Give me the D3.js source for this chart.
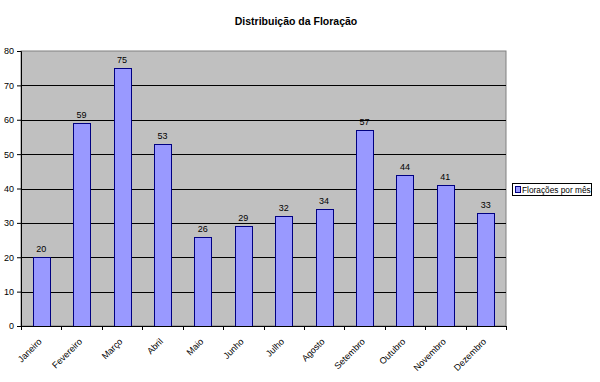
<!DOCTYPE html>
<html>
<head>
<meta charset="utf-8">
<script src="https://cdn.jsdelivr.net/npm/d3@7"></script>
<style>
  body { margin: 0; background: #fff; }
  svg { font-family: "Liberation Sans", Arial, sans-serif; }
</style>
</head>
<body>
<div id="chart"></div>
<script>
// chart data
const months = ["Janeiro", "Fevereiro", "Março", "Abril", "Maio", "Junho",
  "Julho", "Agosto", "Setembro", "Outubro", "Novembro", "Dezembro"];
const floracoes = [20, 59, 75, 53, 26, 29, 32, 34, 57, 44, 41, 33];
const yTicks = [0, 10, 20, 30, 40, 50, 60, 70, 80];
const seriesName = "Florações por mês";
const title = "Distribuição da Floração";

const W = 600, H = 382;
const margin = { top: 51, left: 21, bottom: 56, right: 94 };
const width = W - margin.left - margin.right;
const height = H - margin.top - margin.bottom;

const svg = d3.select("#chart").append("svg")
  .attr("width", W)
  .attr("height", H);

svg.append("text")
  .attr("x", 296)
  .attr("y", 25)
  .attr("text-anchor", "middle")
  .attr("font-size", "10.5px")
  .attr("font-weight", "bold")
  .text(title);

const g = svg.append("g").attr("transform", `translate(${margin.left},${margin.top})`);

const x = d3.scaleBand().domain(months).range([0, width]).paddingInner(0).paddingOuter(0);
const y = d3.scaleLinear().domain([0, 80]).range([height, 0]);

// plot area
g.append("rect")
  .attr("width", width)
  .attr("height", height)
  .attr("fill", "#c0c0c0")
  .attr("stroke", "#808080")
  .attr("stroke-width", 1);

// gridlines
g.selectAll(".grid")
  .data(yTicks.filter(d => d > 0 && d < 80))
  .enter().append("line")
  .attr("x1", 0).attr("x2", width)
  .attr("y1", d => Math.round(y(d)) + 0.5)
  .attr("y2", d => Math.round(y(d)) + 0.5)
  .attr("stroke", "#000")
  .attr("stroke-width", 1);

// bars
const bw = x.bandwidth() * 0.42;
g.selectAll(".bar")
  .data(floracoes)
  .enter().append("rect")
  .attr("x", (d, i) => Math.round(x(months[i]) + (x.bandwidth() - bw) / 2) + 0.5)
  .attr("y", d => Math.round(y(d)) + 0.5)
  .attr("width", Math.round(bw))
  .attr("height", d => Math.round(height - y(d)))
  .attr("fill", "#9999ff")
  .attr("stroke", "#000080")
  .attr("stroke-width", 1);

// value labels
g.selectAll(".lbl")
  .data(floracoes)
  .enter().append("text")
  .attr("x", (d, i) => x(months[i]) + x.bandwidth() / 2)
  .attr("y", d => y(d) - 5)
  .attr("text-anchor", "middle")
  .attr("font-size", "9px")
  .attr("fill", "#000")
  .text(d => d);

// y axis
const yAxis = g.append("g")
  .call(d3.axisLeft(y).tickValues(yTicks).tickSize(4).tickPadding(3));
yAxis.select(".domain").attr("stroke", "#000");
yAxis.selectAll("line").attr("stroke", "#000");
yAxis.selectAll("text").attr("font-size", "9px").attr("fill", "#000")
  .attr("font-family", "Liberation Sans, Arial, sans-serif");

// x axis
const xAxis = g.append("g").attr("transform", `translate(0,${height})`)
  .call(d3.axisBottom(x).tickSize(0).tickSizeOuter(0));
xAxis.select(".domain").attr("stroke", "#000");
xAxis.selectAll(".tick line").remove();
xAxis.selectAll("text")
  .attr("font-size", "9px")
  .attr("fill", "#000")
  .attr("font-family", "Liberation Sans, Arial, sans-serif")
  .attr("text-anchor", "end")
  .attr("dy", "0")
  .attr("transform", "translate(-1,14) rotate(-45)");
// ticks at band boundaries
xAxis.selectAll(".bt")
  .data(months.concat([null]))
  .enter().append("line")
  .attr("x1", (d, i) => Math.round(i * x.step()) + 0.5)
  .attr("x2", (d, i) => Math.round(i * x.step()) + 0.5)
  .attr("y1", 0).attr("y2", 4)
  .attr("stroke", "#000");

// legend
const lg = svg.append("g").attr("transform", "translate(512,183)");
lg.append("rect")
  .attr("x", 0.5).attr("y", 0.5)
  .attr("width", 79).attr("height", 12)
  .attr("fill", "#fff")
  .attr("stroke", "#000");
lg.append("rect")
  .attr("x", 3.5).attr("y", 3.5)
  .attr("width", 5).attr("height", 6)
  .attr("fill", "#9999ff")
  .attr("stroke", "#000080");
lg.append("text")
  .attr("x", 10).attr("y", 9.8)
  .attr("font-size", "8.3px")
  .attr("fill", "#000")
  .text(seriesName);
</script>
</body>
</html>
